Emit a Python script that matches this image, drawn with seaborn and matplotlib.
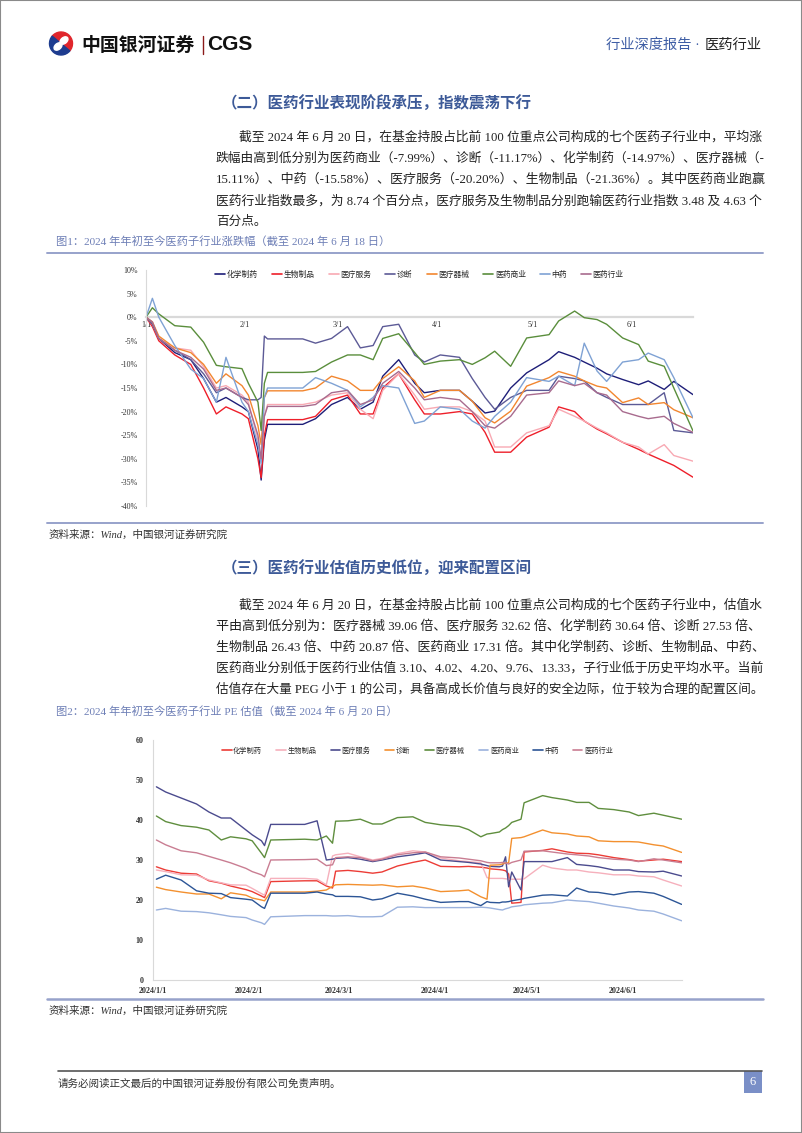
import numpy as np
import pandas as pd
import matplotlib
matplotlib.use("Agg")
import matplotlib.pyplot as plt
from matplotlib.patches import Rectangle, Wedge, Ellipse
from matplotlib.lines import Line2D
import seaborn as sns

# ---------------- data: chart 1 (YTD change, %) ----------------
dates1 = ["2024-01-01","2024-01-03","2024-01-05","2024-01-10","2024-01-15","2024-01-19","2024-01-23","2024-01-26","2024-01-31",
          "2024-02-02","2024-02-05","2024-02-06","2024-02-07","2024-02-08","2024-02-19","2024-02-23","2024-02-28",
          "2024-03-04","2024-03-08","2024-03-12","2024-03-15","2024-03-20","2024-03-25","2024-03-28",
          "2024-04-02","2024-04-08","2024-04-12","2024-04-16","2024-04-19","2024-04-24","2024-04-29",
          "2024-05-06","2024-05-09","2024-05-14","2024-05-17","2024-05-21","2024-05-24","2024-05-29",
          "2024-06-03","2024-06-06","2024-06-11","2024-06-14","2024-06-20"]
names1 = ["化学制药", "生物制品", "医疗服务", "诊断", "医疗器械", "医药商业", "中药", "医药行业"]
chem1 = [0, -1.5, -4.5, -7.5, -9.0, -13.0, -18.0, -17.0, -19.0,
         -20.0, -28.0, -34.5, -26.0, -22.7, -22.7, -21.5, -18.5,
         -17.0, -19.5, -18.0, -12.5, -9.0, -14.0, -16.0,
         -15.5, -15.5, -17.8, -20.3, -19.9, -15.0, -11.8,
         -9.0, -7.3, -8.5, -9.5, -10.8, -12.0, -13.2,
         -14.3, -13.5, -15.3, -13.6, -16.4]
bio1 = [0, -2.0, -5.0, -8.0, -10.0, -15.0, -20.5, -19.0, -20.5,
        -21.5, -30.0, -34.0, -25.0, -21.7, -21.7, -21.0, -17.5,
        -16.5, -20.5, -20.5, -15.0, -12.0, -17.5, -20.5,
        -20.5, -20.0, -20.5, -24.4, -28.6, -28.6, -25.4,
        -23.3, -19.0, -20.0, -22.0, -23.7, -24.7, -26.5,
        -28.0, -29.0, -30.5, -31.4, -33.9]
serv1 = [0, -1.5, -4.5, -6.5, -7.0, -10.5, -15.0, -14.5, -16.5,
         -18.0, -26.0, -31.0, -21.0, -18.5, -18.5, -18.0, -16.5,
         -16.0, -19.5, -21.5, -15.5, -12.0, -16.5, -19.5,
         -19.0, -19.0, -20.0, -22.0, -27.5, -27.5, -24.5,
         -23.0, -19.5, -21.0, -22.0, -23.5, -24.5, -26.5,
         -27.5, -29.0, -27.0, -29.3, -30.5]
diag1 = [0, -1.5, -4.5, -7.0, -9.0, -12.0, -16.0, -15.0, -17.0,
         -17.5, -17.5, -17.0, -4.0, -4.6, -4.6, -5.5, -4.5,
         -2.0, -6.5, -6.0, -2.0, -1.5, -8.0, -9.5,
         -8.0, -8.5, -13.0, -17.0, -19.5, -17.0, -15.5,
         -15.5, -12.5, -13.0, -13.5, -16.0, -17.0, -18.5,
         -18.5, -18.5, -16.0, -24.0, -24.5]
dev1 = [0, -1.0, -4.0, -6.5, -7.5, -10.0, -14.0, -12.0, -14.5,
        -16.5, -23.0, -27.0, -17.0, -15.6, -15.6, -15.0, -12.5,
        -13.5, -15.5, -15.5, -13.0, -10.5, -13.5, -17.0,
        -15.5, -15.5, -17.8, -21.3, -22.4, -19.9, -14.6,
        -12.8, -11.5, -12.5, -13.5, -14.6, -15.0, -18.1,
        -17.1, -18.5, -18.1, -19.6, -21.3]
biz1 = [0, 2.0, 0.7, -1.8, -2.1, -5.3, -10.2, -10.5, -10.9,
        -14.0, -18.0, -24.0, -14.0, -11.7, -11.7, -11.5, -9.5,
        -8.0, -8.0, -9.0, -4.5, -3.5, -7.5, -10.0,
        -9.3, -9.0, -10.0, -8.6, -7.2, -10.4, -4.4,
        -3.7, -0.8, 1.3, -0.1, -0.5, -1.5, -4.4,
        -5.8, -9.3, -10.4, -15.0, -24.1]
tcm1 = [0, 4.0, 0.0, -6.0, -11.0, -13.0, -18.0, -8.5, -18.0,
        -20.0, -27.0, -31.0, -17.0, -15.0, -15.0, -12.8, -14.0,
        -15.5, -19.0, -17.0, -14.5, -15.0, -22.5, -22.0,
        -19.0, -19.5, -22.0, -23.5, -21.0, -18.0, -12.8,
        -13.6, -12.5, -14.5, -5.5, -11.4, -13.6, -9.5,
        -9.0, -7.6, -9.0, -12.8, -21.3]
ind1 = [0, -1.0, -4.5, -7.0, -8.5, -11.0, -15.5, -15.0, -17.0,
        -18.5, -25.0, -30.0, -21.0, -18.9, -18.9, -18.5, -16.0,
        -15.5, -18.5, -17.5, -14.0, -11.5, -15.0, -17.5,
        -17.0, -17.5, -20.0, -23.0, -23.5, -21.0, -16.5,
        -16.0, -13.5, -14.5, -14.0, -16.0, -16.5, -20.0,
        -21.0, -21.5, -21.0, -22.5, -24.4]
ticks1 = ["2024-01-01", "2024-02-01", "2024-03-01", "2024-04-01", "2024-05-01", "2024-06-01"]
ticklabels1 = ["1/1", "2/1", "3/1", "4/1", "5/1", "6/1"]

# ---------------- data: chart 2 (PE) ----------------
dates2 = ["2024-01-02","2024-01-05","2024-01-10","2024-01-15","2024-01-19","2024-01-23","2024-01-26","2024-01-31",
          "2024-02-02","2024-02-05","2024-02-06","2024-02-08","2024-02-19","2024-02-23","2024-02-26","2024-02-28","2024-02-29",
          "2024-03-04","2024-03-08","2024-03-12","2024-03-15","2024-03-20","2024-03-25","2024-03-29",
          "2024-04-03","2024-04-09","2024-04-12","2024-04-16","2024-04-18","2024-04-19","2024-04-22","2024-04-23",
          "2024-04-24","2024-04-25","2024-04-26","2024-04-29","2024-04-30",
          "2024-05-06","2024-05-09","2024-05-14","2024-05-17","2024-05-21","2024-05-24","2024-05-29",
          "2024-06-03","2024-06-06","2024-06-11","2024-06-14","2024-06-20"]
names2 = ["化学制药", "生物制品", "医疗服务", "诊断", "医疗器械", "医药商业", "中药", "医药行业"]
chem2 = [28.3, 27.5, 26.7, 26.5, 24.8, 24.2, 23.5, 22.6,
         22.1, 21.0, 20.6, 24.6, 24.8, 24.8, 23.5, 23.0, 27.2,
         27.4, 27.1, 26.7, 27.0, 28.5, 29.4, 30.0,
         28.4, 28.3, 28.4, 28.2, 28.0, 27.8, 27.6, 27.5, 27.3, 26.5, 19.2, 19.4, 32.0,
         32.4, 32.8, 32.0, 31.7, 31.6, 31.3, 30.6,
         30.1, 29.7, 30.0, 30.2, 29.6]
bio2 = [27.5, 27.1, 26.3, 26.2, 25.0, 24.3, 23.8, 23.7,
        22.9, 21.6, 21.2, 25.4, 25.4, 25.2, 23.8, 31.0, 31.3,
        31.7, 30.8, 30.0, 30.4, 31.6, 32.3, 32.0,
        30.5, 29.8, 29.6, 29.3, 25.6, 25.4, 25.4, 25.4, 25.3, 25.2, 25.2, 25.2, 25.3,
        28.7, 28.0, 27.5, 27.5, 27.0, 26.8, 26.3,
        26.3, 26.0, 25.8, 25.0, 23.5]
serv2 = [48.3, 47.0, 45.5, 44.0, 42.0, 40.5, 40.5, 37.5,
         36.3, 34.8, 33.6, 38.9, 38.9, 39.8, 30.0, 30.2, 30.4,
         30.6, 30.2, 29.6, 30.0, 30.8, 31.3, 31.8,
         30.0, 29.6, 29.4, 29.0, 28.6, 28.4, 28.3, 28.5, 30.8, 23.3, 27.0, 22.5, 29.6,
         29.6, 29.6, 30.6, 28.9, 28.6, 28.3, 27.5,
         27.5, 27.1, 27.0, 27.2, 26.0]
diag2 = [23.2, 22.6, 22.0, 21.5, 21.5, 20.3, 21.8, 21.2,
         20.5, 20.0, 19.8, 22.0, 22.0, 22.2, 22.5, 23.4, 23.8,
         23.9, 23.8, 23.7, 23.8, 23.3, 23.5, 23.0,
         22.1, 22.3, 22.5, 20.8, 20.2, 28.7, 28.8, 29.0, 29.2, 29.3, 35.4, 35.6, 35.8,
         37.5, 36.8, 36.5, 36.0, 35.8, 34.8, 34.6,
         34.6, 34.5, 33.8, 33.5, 31.9]
dev2 = [41.0, 39.6, 38.6, 38.2, 37.5, 35.0, 35.8, 35.3,
        34.8, 31.7, 30.6, 35.0, 35.2, 35.0, 36.0, 34.2, 39.7,
        39.8, 40.2, 39.0, 39.0, 40.6, 40.8, 39.4,
        38.8, 38.4, 37.6, 35.8, 36.5, 36.6, 37.0, 37.6, 38.0, 38.6, 39.4, 40.2, 44.3,
        46.1, 45.6, 45.0, 44.4, 44.4, 42.9, 42.6,
        42.0, 41.1, 41.7, 41.2, 40.2]
biz2 = [17.5, 17.9, 17.2, 17.1, 16.8, 16.3, 15.9, 15.6,
        15.0, 14.3, 13.9, 15.8, 16.1, 16.1, 16.1, 16.0, 16.0,
        16.1, 15.8, 15.8, 15.9, 18.2, 18.3, 18.1,
        18.1, 18.1, 18.1, 18.2, 18.1, 18.0, 17.6, 17.5, 17.8, 18.0, 18.3, 18.6, 18.8,
        19.2, 19.3, 20.0, 19.8, 19.6, 19.2, 18.5,
        18.0, 17.5, 17.2, 16.5, 14.8]
tcm2 = [25.2, 26.2, 25.0, 22.3, 21.7, 21.6, 20.6, 20.2,
        20.0, 18.3, 17.9, 21.7, 21.7, 22.0, 21.5, 21.3, 20.9,
        20.9, 20.8, 20.0, 20.3, 21.7, 21.0, 20.2,
        19.4, 19.6, 19.6, 18.6, 19.6, 19.4, 19.3, 19.5, 19.5, 19.6, 19.8, 20.2, 20.4,
        21.2, 21.3, 21.0, 23.0, 22.0, 21.9, 21.3,
        22.0, 22.1, 21.7, 20.9, 18.9]
ind2 = [35.0, 33.8, 32.3, 31.8, 30.9, 30.0, 29.3, 27.9,
        27.1, 26.3, 25.8, 30.0, 30.1, 30.2, 28.6, 28.8, 30.6,
        30.8, 30.6, 29.8, 30.2, 31.3, 31.8, 32.0,
        30.8, 30.5, 30.2, 29.8, 29.4, 29.3, 29.3, 29.4, 29.2, 29.0, 29.4, 30.0, 32.2,
        32.3, 32.0, 31.5, 31.3, 31.0, 30.6, 30.2,
        30.0, 29.6, 30.3, 30.0, 29.3]
ticks2 = ["2024-01-01", "2024-02-01", "2024-03-01", "2024-04-01", "2024-05-01", "2024-06-01"]
ticklabels2 = ["2024/1/1", "2024/2/1", "2024/3/1", "2024/4/1", "2024/5/1", "2024/6/1"]

series1 = [chem1, bio1, serv1, diag1, dev1, biz1, tcm1, ind1]
series2 = [chem2, bio2, serv2, diag2, dev2, biz2, tcm2, ind2]
colors1 = ["#1E1E78", "#EE1F2A", "#F8A9B3", "#5C5A96", "#F2862F", "#5A8E3C", "#7FA2D4", "#A86B8E"]
colors2 = ["#EC3C36", "#F6B0BC", "#4B4B8E", "#F3902F", "#5F8E3E", "#9BB2DD", "#2C5596", "#C97D92"]

def long_df(dates, names, series):
    rows = []
    for n, vals in zip(names, series):
        if len(vals) != len(dates):
            raise ValueError(f"{n}: {len(vals)} values vs {len(dates)} dates")
        for d, v in zip(dates, vals):
            rows.append((pd.Timestamp(d), n, v))
    return pd.DataFrame(rows, columns=["date", "series", "value"])

df1 = long_df(dates1, names1, series1)
df2 = long_df(dates2, names2, series2)

# ---------------- figure ----------------
sns.set_theme(style="white")
plt.rcParams['font.family'] = ['Liberation Serif', 'Noto Sans CJK SC', 'DejaVu Sans']
plt.rcParams['axes.unicode_minus'] = False

W, H = 802, 1133
fig = plt.figure(figsize=(W / 100, H / 100), dpi=100)
fig.patch.set_facecolor("white")

def fx(x):
    return x / W

def fy(y):
    return 1 - y / H

CJK = ['Liberation Serif', 'Noto Sans CJK SC', 'DejaVu Sans']
TITLE_C = "#3D5A98"
CAP_C = "#6D7EB6"
RULE_C = "#97A2CB"
LW = 1.0

def hline(x0, x1, y, color, lw):
    fig.add_artist(Line2D([fx(x0), fx(x1)], [fy(y), fy(y)], color=color, lw=lw))

# page border
fig.add_artist(Rectangle((0, 0), 1, 1, transform=fig.transFigure, fill=False,
                         edgecolor="#8A8A8A", lw=1.5))

# header logo
axl = fig.add_axes([fx(45), fy(56), 32 / W, 25 / H])
axl.set_xlim(0, 32)
axl.set_ylim(0, 25)
axl.set_aspect("equal")
axl.axis("off")
axl.add_patch(Wedge((16, 12.5), 11.5, -40, 140, color="#E0262C"))
axl.add_patch(Wedge((16, 12.5), 11.5, 140, 320, color="#1D3C8F"))
axl.add_patch(Ellipse((19, 15.5), 9, 6, angle=40, color="white"))
axl.add_patch(Ellipse((13, 9.5), 9, 6, angle=40, color="white"))

fig.text(fx(81), fy(45), "中国银河证券", fontsize=13.6, fontweight="bold",
         family=['Noto Sans CJK SC'], color="#111111", va="center", ha="left")
fig.add_artist(Line2D([fx(203), fx(203)], [fy(36), fy(54)], color="#8B1A1A", lw=1.0))
fig.text(fx(207), fy(45), "CGS", fontsize=15, fontweight="bold",
         family=['Liberation Sans'], color="#111111", va="center", ha="left")
fig.text(fx(762), fy(45), "医药行业", fontsize=10.3, family=CJK, color="#222222",
         va="center", ha="right")
fig.text(fx(703), fy(45), "行业深度报告 · ", fontsize=10.3, family=CJK, color="#3F5EA5",
         va="center", ha="right")

# section 1
fig.text(fx(222), fy(105), "（二）医药行业表现阶段承压，指数震荡下行", fontsize=11.2,
         fontweight="bold", family=CJK, color=TITLE_C, va="center", ha="left")

para1 = ["截至 2024 年 6 月 20 日，在基金持股占比前 100 位重点公司构成的七个医药子行业中，平均涨",
         "跌幅由高到低分别为医药商业（-7.99%）、诊断（-11.17%）、化学制药（-14.97%）、医疗器械（-",
         "15.11%）、中药（-15.58%）、医疗服务（-20.20%）、生物制品（-21.36%）。其中医药商业跑赢",
         "医药行业指数最多，为 8.74 个百分点，医疗服务及生物制品分别跑输医药行业指数 3.48 及 4.63 个",
         "百分点。"]
para2 = ["截至 2024 年 6 月 20 日，在基金持股占比前 100 位重点公司构成的七个医药子行业中，估值水",
         "平由高到低分别为：医疗器械 39.06 倍、医疗服务 32.62 倍、化学制药 30.64 倍、诊断 27.53 倍、",
         "生物制品 26.43 倍、中药 20.87 倍、医药商业 17.31 倍。其中化学制药、诊断、生物制品、中药、",
         "医药商业分别低于医药行业估值 3.10、4.02、4.20、9.76、13.33，子行业低于历史平均水平。当前",
         "估值存在大量 PEG 小于 1 的公司，具备高成长价值与良好的安全边际，位于较为合理的配置区间。"]

justify = []

def paragraph(lines, y0, step, full_last=False):
    for i, s in enumerate(lines):
        x0 = 239 if i == 0 else 216
        t = fig.text(fx(x0), fy(y0 + i * step), s, fontsize=9.1, family=CJK,
                     color="#222222", va="center", ha="left")
        if i < len(lines) - 1 or full_last:
            justify.append((t, 763 - x0))

paragraph(para1, 137, 21.3)

fig.text(fx(56), fy(242), "图1：2024 年年初至今医药子行业涨跌幅（截至 2024 年 6 月 18 日）",
         fontsize=8.1, family=CJK, color=CAP_C, va="center", ha="left")
hline(47, 763, 253, RULE_C, 1.4)

# ---------------- chart 1 ----------------
ax1 = fig.add_axes([fx(146), fy(506), (693 - 146) / W, (506 - 270) / H])
sns.lineplot(data=df1, x="date", y="value", hue="series", hue_order=names1,
             palette=dict(zip(names1, colors1)), linewidth=LW, ax=ax1, legend=False)
ax1.set_xlim(pd.Timestamp("2024-01-01"), pd.Timestamp("2024-06-20"))
ax1.set_ylim(-40, 10)
ax1.set_yticks(np.arange(-40, 11, 5))
ax1.set_yticklabels([f"{v:.0f}%" for v in np.arange(-40, 11, 5)])
ax1.set_xticks([pd.Timestamp(t) for t in ticks1])
ax1.set_xticklabels(ticklabels1)
ax1.set_xlabel("")
ax1.set_ylabel("")
for s in ["top", "right"]:
    ax1.spines[s].set_visible(False)
ax1.spines["left"].set_color("#D9D9D9")
ax1.spines["left"].set_linewidth(0.8)
ax1.spines["bottom"].set_position(("data", 0))
ax1.spines["bottom"].set_color("#D9D9D9")
ax1.spines["bottom"].set_linewidth(1.6)
ax1.spines["bottom"].set_zorder(0.5)
ax1.tick_params(axis="both", length=0, labelsize=5.8, colors="#333333")
ax1.tick_params(axis="x", pad=3)
ax1.tick_params(axis="y", pad=6)
ax1.set_facecolor("none")
h1 = [Line2D([0], [0], color=c, lw=1.2) for c in colors1]
ax1.legend(h1, names1, loc="upper center", bbox_to_anchor=(0.5, 1.01), ncol=8,
           frameon=False, prop={"family": CJK, "size": 5.6}, handlelength=1.3,
           handletextpad=0.2, columnspacing=1.8, borderaxespad=0)

hline(47, 763, 523, RULE_C, 1.4)
fig.text(fx(49), fy(535), "资料来源：Wind，中国银河证券研究院", fontsize=7.6, style="italic",
         family=CJK, color="#333333", va="center", ha="left")

# section 2
fig.text(fx(222), fy(570), "（三）医药行业估值历史低位，迎来配置区间", fontsize=11.2,
         fontweight="bold", family=CJK, color=TITLE_C, va="center", ha="left")
paragraph(para2, 605, 21.2, full_last=True)
fig.text(fx(56), fy(712), "图2：2024 年年初至今医药子行业 PE 估值（截至 2024 年 6 月 20 日）",
         fontsize=8.1, family=CJK, color=CAP_C, va="center", ha="left")

# ---------------- chart 2 ----------------
ax2 = fig.add_axes([fx(153.3), fy(980), (681.7 - 153.3) / W, (980 - 740) / H])
sns.lineplot(data=df2, x="date", y="value", hue="series", hue_order=names2,
             palette=dict(zip(names2, colors2)), linewidth=LW, ax=ax2, legend=False)
ax2.set_xlim(pd.Timestamp("2024-01-01"), pd.Timestamp("2024-06-20"))
ax2.set_ylim(0, 60)
ax2.set_yticks(np.arange(0, 61, 10))
ax2.set_xticks([pd.Timestamp(t) for t in ticks2])
ax2.set_xticklabels(ticklabels2)
ax2.set_xlabel("")
ax2.set_ylabel("")
for s in ["top", "right"]:
    ax2.spines[s].set_visible(False)
for s in ["left", "bottom"]:
    ax2.spines[s].set_color("#D9D9D9")
    ax2.spines[s].set_linewidth(0.8)
    ax2.spines[s].set_zorder(0.5)
ax2.tick_params(axis="both", length=0, labelsize=5.8, colors="#333333")
ax2.tick_params(axis="x", pad=5)
ax2.tick_params(axis="y", pad=7)
for lab in ax2.get_xticklabels() + ax2.get_yticklabels():
    lab.set_fontweight("bold")
ax2.set_facecolor("none")
h2 = [Line2D([0], [0], color=c, lw=1.2) for c in colors2]
ax2.legend(h2, names2, loc="upper center", bbox_to_anchor=(0.5, 0.985), ncol=8,
           frameon=False, prop={"family": CJK, "size": 5.2}, handlelength=1.3,
           handletextpad=0.2, columnspacing=2.0, borderaxespad=0)

hline(47, 763, 999, RULE_C, 1.8)
fig.text(fx(49), fy(1011), "资料来源：Wind，中国银河证券研究院", fontsize=7.6, style="italic",
         family=CJK, color="#333333", va="center", ha="left")

# footer
hline(58, 762, 1071, "#555555", 1.2)
fig.text(fx(58), fy(1084), "请务必阅读正文最后的中国银河证券股份有限公司免责声明。", fontsize=7.6,
         family=CJK, color="#333333", va="center", ha="left")
fig.add_artist(Rectangle((fx(744), fy(1093)), 18 / W, 22 / H, transform=fig.transFigure,
                         color="#7A8FC7", lw=0))
fig.text(fx(753), fy(1082), "6", fontsize=9, family=CJK, color="white", va="center", ha="center")

# justify paragraph lines to the text block width
fig.canvas.draw()
r = fig.canvas.get_renderer()
for t, target in justify:
    w = t.get_window_extent(r).width
    if w > 0:
        t.set_fontsize(t.get_fontsize() * target / w)

fig.savefig("out.png", dpi=100, facecolor="white")
